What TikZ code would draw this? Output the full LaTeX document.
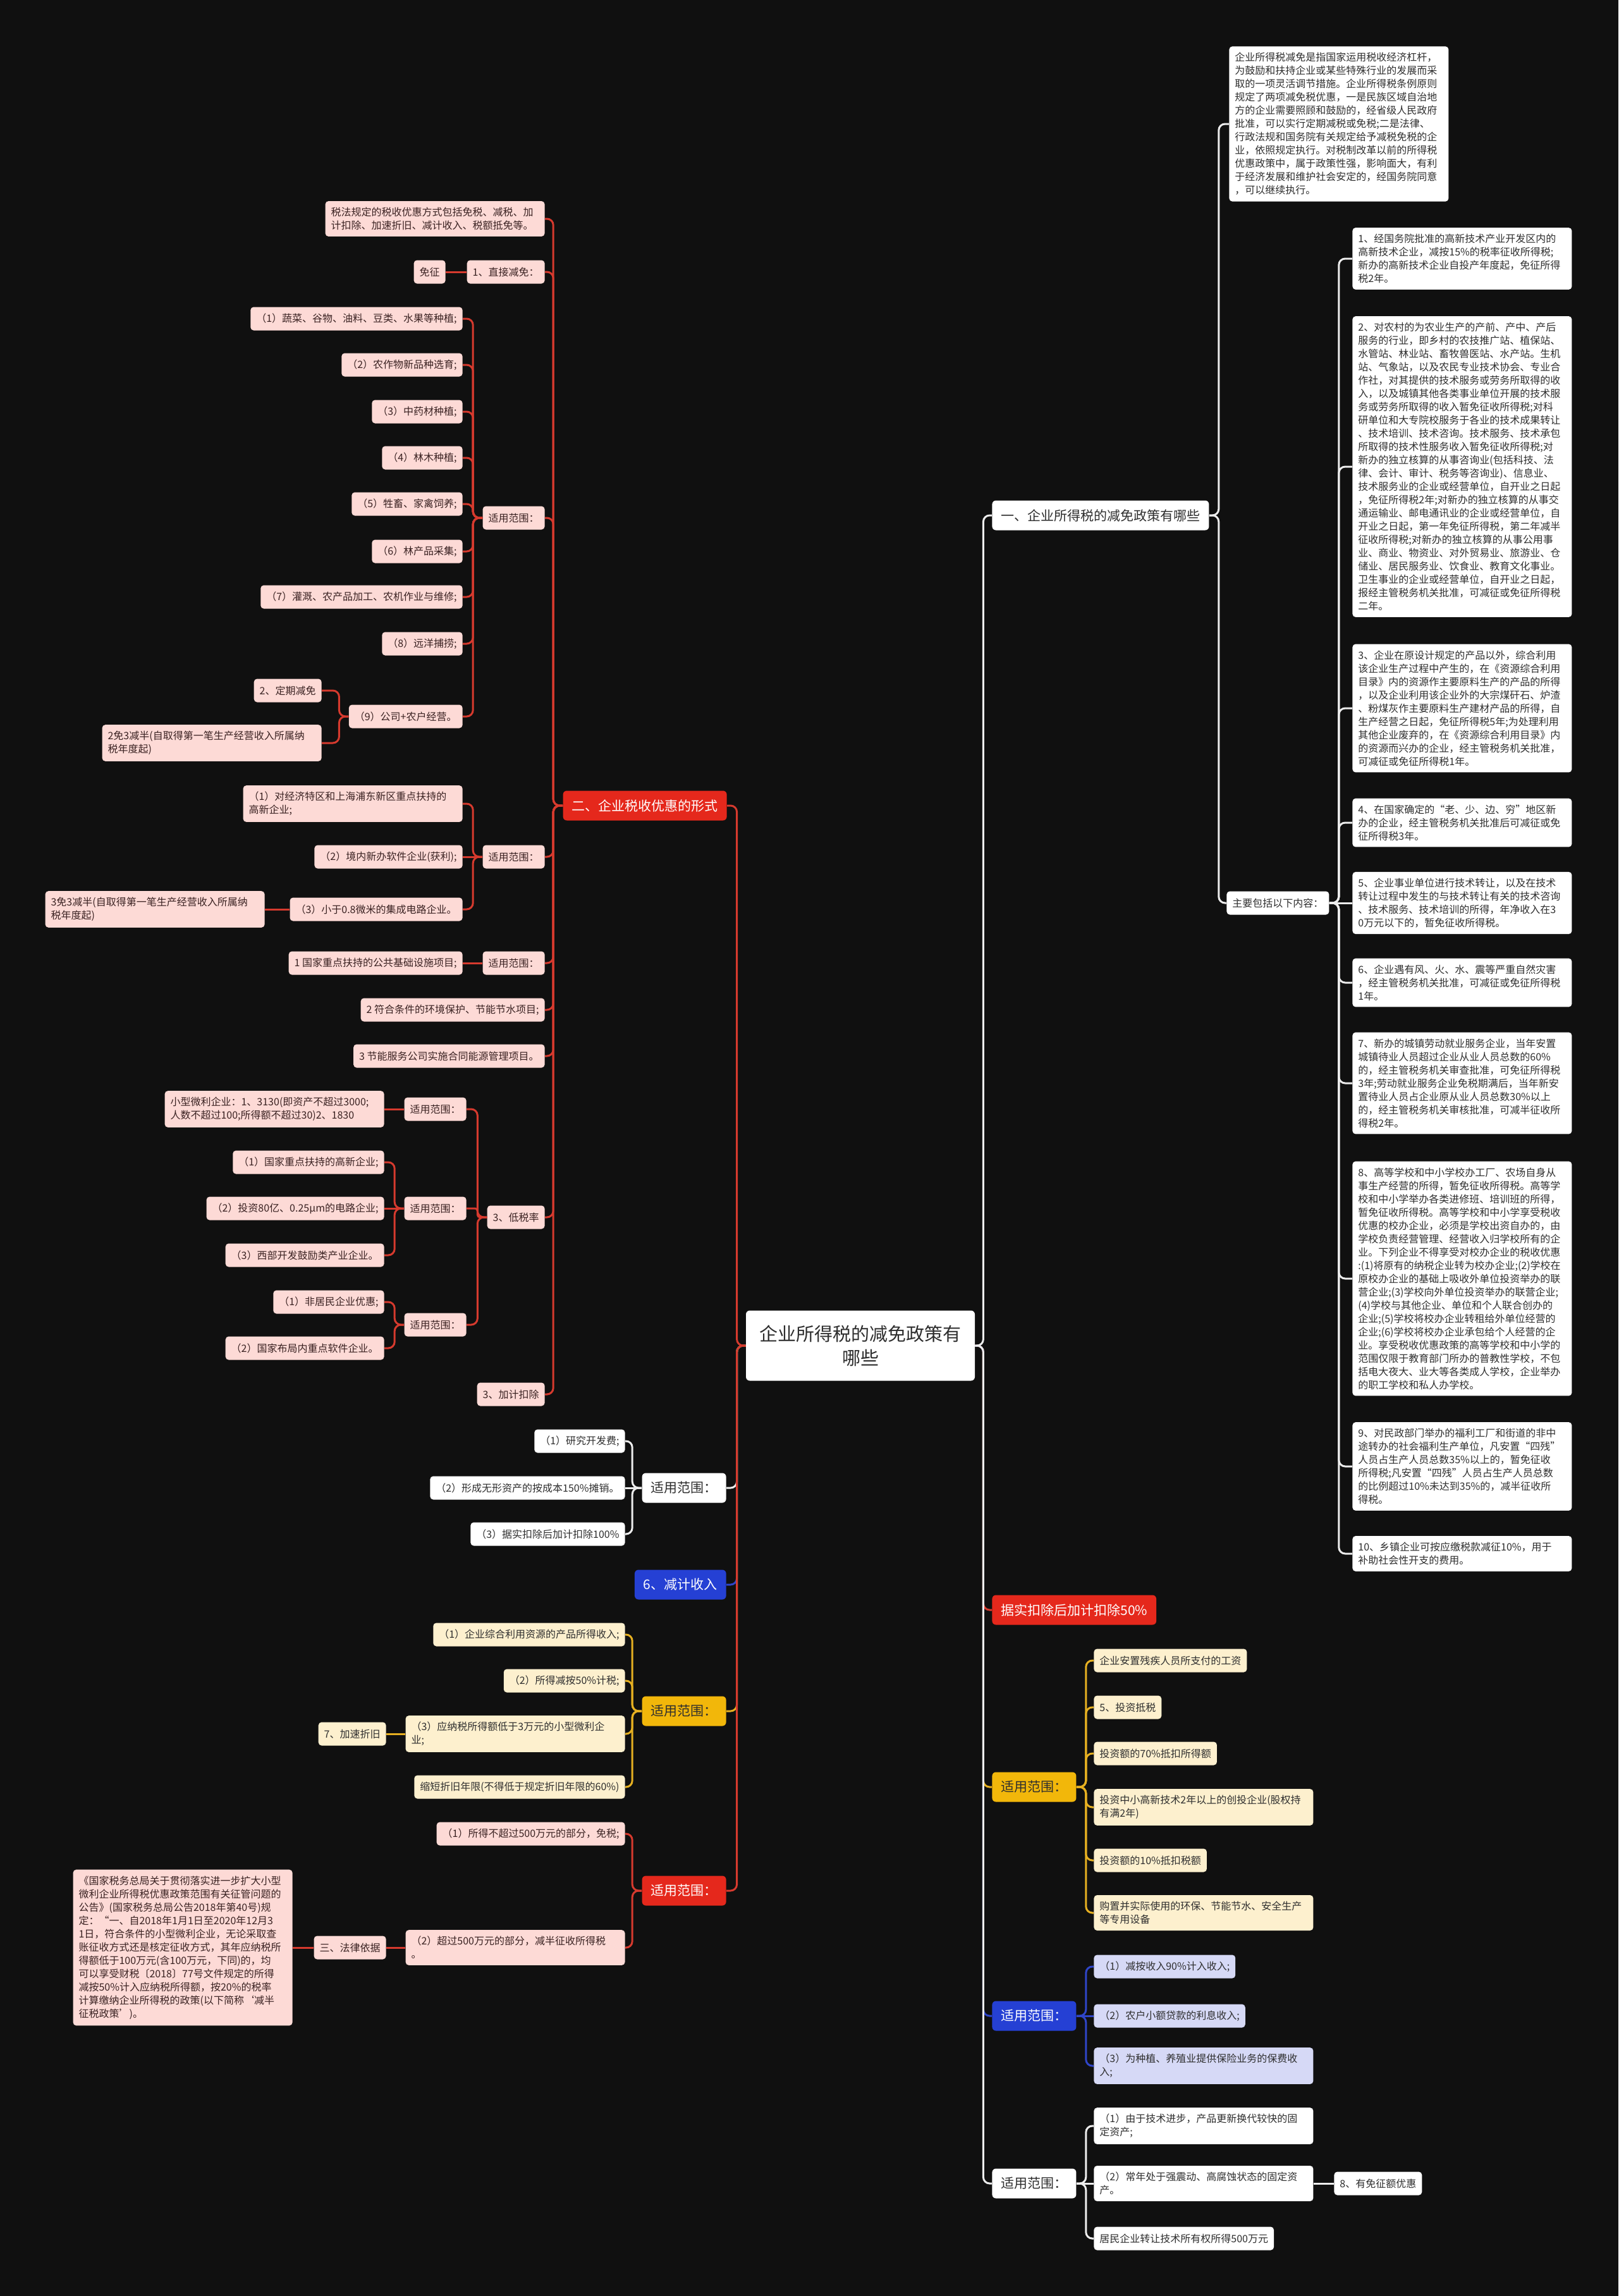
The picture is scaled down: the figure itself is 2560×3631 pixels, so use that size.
\documentclass[tikz,border=0pt]{standalone}
\usepackage{fontspec}
\setmainfont{Noto Sans CJK SC}
\definecolor{bg}{HTML}{101010}
\definecolor{txt}{HTML}{2E2E2E}
\definecolor{pinkF}{HTML}{FDDAD6}
\definecolor{pinkT}{HTML}{3A2222}
\definecolor{redF}{HTML}{E5281C}
\definecolor{redL}{HTML}{D63A2E}
\definecolor{ylF}{HTML}{F2B70A}
\definecolor{ylL}{HTML}{E6B021}
\definecolor{ylLight}{HTML}{FDF0CE}
\definecolor{blF}{HTML}{2540D4}
\definecolor{blL}{HTML}{2F45C8}
\definecolor{blLight}{HTML}{D6D9F6}
\definecolor{whL}{HTML}{EDEDED}
\newcommand\fsS{\fontsize{8}{10.5}\selectfont}
\newcommand\fsB{\fontsize{10.5}{13}\selectfont}
\newcommand\fsC{\fontsize{14.5}{19}\selectfont}
\newcommand\conl[3]{\draw[#1] (#2.west) -- ++(-15,0) |- (#3.east);}
\newcommand\conr[3]{\draw[#1] (#2.east) -- ++(15,0) |- (#3.west);}
\newcommand\strl[3]{\draw[#1] (#2.west) -- (#3.east |- #2.west);}
\newcommand\strr[3]{\draw[#1] (#2.east) -- (#3.west |- #2.east);}
\tikzset{
  box/.style={rounded corners=2.5pt, inner xsep=4.5pt, inner ysep=3pt, font=\fsS, text=txt, minimum height=18.5pt},
  mbox/.style={rounded corners=2.5pt, inner xsep=4.5pt, inner ysep=5pt, font=\fsS, text=txt, text width=164.5pt, align=left},
  lvl/.style={rounded corners=3pt, inner xsep=7pt, inner ysep=3pt, font=\fsB, minimum height=23.5pt},
  pk/.style={box, fill=pinkF, text=pinkT},
  pkm/.style={mbox, fill=pinkF, text=pinkT},
  wt/.style={box, fill=white},
  wtm/.style={mbox, fill=white},
  yl/.style={box, fill=ylLight},
  ylm/.style={mbox, fill=ylLight},
  bl/.style={box, fill=blLight},
  blm/.style={mbox, fill=blLight},
  lvred/.style={lvl, fill=redF, text=white},
  lvwt/.style={lvl, fill=white, text=txt},
  lvyl/.style={lvl, fill=ylF, text=txt},
  lvbl/.style={lvl, fill=blF, text=white},
  ln/.style={line width=1.5pt, rounded corners=5pt},
  ln2/.style={line width=1.5pt, rounded corners=2pt},
  lr/.style={ln, draw=redL},
  lr2/.style={ln2, draw=redL},
  lw/.style={ln, draw=whL},
  ly/.style={ln, draw=ylL},
  lb/.style={ln, draw=blL},
}
\begin{document}
\begin{tikzpicture}[x=0.5pt,y=-0.5pt]
\fill[bg] (0,0) rectangle (2560,3631);
\useasboundingbox (0,0) rectangle (2560,3631);

% center
\node[fill=white, text=txt, rounded corners=3pt, font=\fsC, align=center, minimum width=181pt, minimum height=55.5pt, inner sep=3pt] (C) at (1361,2128) {企业所得税的减免政策有\\哪些};

% ---------------- right side ----------------
\node[lvwt, anchor=west] (R1) at (1569,815) {一、企业所得税的减免政策有哪些};
\node[wtm, anchor=west] (Rp) at (1944,196) {企业所得税减免是指国家运用税收经济杠杆，\\为鼓励和扶持企业或某些特殊行业的发展而采\\取的一项灵活调节措施。企业所得税条例原则\\规定了两项减免税优惠，一是民族区域自治地\\方的企业需要照顾和鼓励的，经省级人民政府\\批准，可以实行定期减税或免税;二是法律、\\行政法规和国务院有关规定给予减税免税的企\\业，依照规定执行。对税制改革以前的所得税\\优惠政策中，属于政策性强，影响面大，有利\\于经济发展和维护社会安定的，经国务院同意\\，可以继续执行。};
\node[wt, anchor=west] (Rm) at (1940,1428) {主要包括以下内容：};
\node[wtm, anchor=west] (Ri1) at (2139,409) {1、经国务院批准的高新技术产业开发区内的\\高新技术企业，减按15\%的税率征收所得税;\\新办的高新技术企业自投产年度起，免征所得\\税2年。};
\node[wtm, anchor=west] (Ri2) at (2139,738) {2、对农村的为农业生产的产前、产中、产后\\服务的行业，即乡村的农技推广站、植保站、\\水管站、林业站、畜牧兽医站、水产站。生机\\站、气象站，以及农民专业技术协会、专业合\\作社，对其提供的技术服务或劳务所取得的收\\入，以及城镇其他各类事业单位开展的技术服\\务或劳务所取得的收入暂免征收所得税;对科\\研单位和大专院校服务于各业的技术成果转让\\、技术培训、技术咨询。技术服务、技术承包\\所取得的技术性服务收入暂免征收所得税;对\\新办的独立核算的从事咨询业(包括科技、法\\律、会计、审计、税务等咨询业)、信息业、\\技术服务业的企业或经营单位，自开业之日起\\，免征所得税2年;对新办的独立核算的从事交\\通运输业、邮电通讯业的企业或经营单位，自\\开业之日起，第一年免征所得税，第二年减半\\征收所得税;对新办的独立核算的从事公用事\\业、商业、物资业、对外贸易业、旅游业、仓\\储业、居民服务业、饮食业、教育文化事业。\\卫生事业的企业或经营单位，自开业之日起，\\报经主管税务机关批准，可减征或免征所得税\\二年。};
\node[wtm, anchor=west] (Ri3) at (2139,1120) {3、企业在原设计规定的产品以外，综合利用\\该企业生产过程中产生的，在《资源综合利用\\目录》内的资源作主要原料生产的产品的所得\\，以及企业利用该企业外的大宗煤矸石、炉渣\\、粉煤灰作主要原料生产建材产品的所得，自\\生产经营之日起，免征所得税5年;为处理利用\\其他企业废弃的，在《资源综合利用目录》内\\的资源而兴办的企业，经主管税务机关批准，\\可减征或免征所得税1年。};
\node[wtm, anchor=west] (Ri4) at (2139,1301) {4、在国家确定的“老、少、边、穷”地区新\\办的企业，经主管税务机关批准后可减征或免\\征所得税3年。};
\node[wtm, anchor=west] (Ri5) at (2139,1428) {5、企业事业单位进行技术转让，以及在技术\\转让过程中发生的与技术转让有关的技术咨询\\、技术服务、技术培训的所得，年净收入在3\\0万元以下的，暂免征收所得税。};
\node[wtm, anchor=west] (Ri6) at (2139,1554) {6、企业遇有风、火、水、震等严重自然灾害\\，经主管税务机关批准，可减征或免征所得税\\1年。};
\node[wtm, anchor=west] (Ri7) at (2139,1713) {7、新办的城镇劳动就业服务企业，当年安置\\城镇待业人员超过企业从业人员总数的60\%\\的，经主管税务机关审查批准，可免征所得税\\3年;劳动就业服务企业免税期满后，当年新安\\置待业人员占企业原从业人员总数30\%以上\\的，经主管税务机关审核批准，可减半征收所\\得税2年。};
\node[wtm, anchor=west] (Ri8) at (2139,2022) {8、高等学校和中小学校办工厂、农场自身从\\事生产经营的所得，暂免征收所得税。高等学\\校和中小学举办各类进修班、培训班的所得，\\暂免征收所得税。高等学校和中小学享受税收\\优惠的校办企业，必须是学校出资自办的，由\\学校负责经营管理、经营收入归学校所有的企\\业。下列企业不得享受对校办企业的税收优惠\\:(1)将原有的纳税企业转为校办企业;(2)学校在\\原校办企业的基础上吸收外单位投资举办的联\\营企业;(3)学校向外单位投资举办的联营企业;\\(4)学校与其他企业、单位和个人联合创办的\\企业;(5)学校将校办企业转租给外单位经营的\\企业;(6)学校将校办企业承包给个人经营的企\\业。享受税收优惠政策的高等学校和中小学的\\范围仅限于教育部门所办的普教性学校，不包\\括电大夜大、业大等各类成人学校，企业举办\\的职工学校和私人办学校。};
\node[wtm, anchor=west] (Ri9) at (2139,2319) {9、对民政部门举办的福利工厂和街道的非中\\途转办的社会福利生产单位，凡安置“四残”\\人员占生产人员总数35\%以上的，暂免征收\\所得税;凡安置“四残”人员占生产人员总数\\的比例超过10\%未达到35\%的，减半征收所\\得税。};
\node[wtm, anchor=west] (Ri10) at (2139,2457) {10、乡镇企业可按应缴税款减征10\%，用于\\补助社会性开支的费用。};

\node[lvred, anchor=west] (R2) at (1569,2546) {据实扣除后加计扣除50\%};
\node[lvyl, anchor=west] (R3) at (1569,2826) {适用范围：};
\node[yl, anchor=west] (R3a) at (1730,2626) {企业安置残疾人员所支付的工资};
\node[yl, anchor=west] (R3b) at (1730,2700) {5、投资抵税};
\node[yl, anchor=west] (R3c) at (1730,2773) {投资额的70\%抵扣所得额};
\node[ylm, anchor=west] (R3d) at (1730,2858) {投资中小高新技术2年以上的创投企业(股权持\\有满2年)};
\node[yl, anchor=west] (R3e) at (1730,2942) {投资额的10\%抵扣税额};
\node[ylm, anchor=west] (R3f) at (1730,3025) {购置并实际使用的环保、节能节水、安全生产\\等专用设备};
\node[lvbl, anchor=west] (R4) at (1569,3188) {适用范围：};
\node[bl, anchor=west] (R4a) at (1730,3110) {（1）减按收入90\%计入收入;};
\node[bl, anchor=west] (R4b) at (1730,3188) {（2）农户小额贷款的利息收入;};
\node[blm, anchor=west] (R4c) at (1730,3267) {（3）为种植、养殖业提供保险业务的保费收\\入;};
\node[lvwt, anchor=west] (R5) at (1569,3453) {适用范围：};
\node[wtm, anchor=west] (R5a) at (1730,3362) {（1）由于技术进步，产品更新换代较快的固\\定资产;};
\node[wtm, anchor=west] (R5b) at (1730,3453) {（2）常年处于强震动、高腐蚀状态的固定资\\产。};
\node[wt, anchor=west] (R5x) at (2110,3453) {8、有免征额优惠};
\node[wt, anchor=west] (R5c) at (1730,3540) {居民企业转让技术所有权所得500万元};

% ---------------- left side ----------------
\node[lvred, anchor=east] (L1) at (1150,1274) {二、企业税收优惠的形式};
\node[pkm, anchor=east] (L1a) at (862,346) {税法规定的税收优惠方式包括免税、减税、加\\计扣除、加速折旧、减计收入、税额抵免等。};
\node[pk, anchor=east] (L1b) at (862,430) {1、直接减免：};
\node[pk, anchor=east] (L1b1) at (705,430) {免征};
\node[pk, anchor=east] (L1c) at (862,819) {适用范围：};
\node[pk, anchor=east] (L1c1) at (732,504) {（1）蔬菜、谷物、油料、豆类、水果等种植;};
\node[pk, anchor=east] (L1c2) at (732,577) {（2）农作物新品种选育;};
\node[pk, anchor=east] (L1c3) at (732,651) {（3）中药材种植;};
\node[pk, anchor=east] (L1c4) at (732,724) {（4）林木种植;};
\node[pk, anchor=east] (L1c5) at (732,797) {（5）牲畜、家禽饲养;};
\node[pk, anchor=east] (L1c6) at (732,872) {（6）林产品采集;};
\node[pk, anchor=east] (L1c7) at (732,944) {（7）灌溉、农产品加工、农机作业与维修;};
\node[pk, anchor=east] (L1c8) at (732,1018) {（8）远洋捕捞;};
\node[pk, anchor=east] (L1c9) at (732,1133) {（9）公司+农户经营。};
\node[pk, anchor=east] (L1c9a) at (509,1092) {2、定期减免};
\node[pkm, anchor=east] (L1c9b) at (509,1175) {2免3减半(自取得第一笔生产经营收入所属纳\\税年度起)};
\node[pk, anchor=east] (L1d) at (862,1355) {适用范围：};
\node[pkm, anchor=east] (L1d1) at (732,1271) {（1）对经济特区和上海浦东新区重点扶持的\\高新企业;};
\node[pk, anchor=east] (L1d2) at (732,1355) {（2）境内新办软件企业(获利);};
\node[pk, anchor=east] (L1d3) at (732,1438) {（3）小于0.8微米的集成电路企业。};
\node[pkm, anchor=east] (L1d3a) at (419,1438) {3免3减半(自取得第一笔生产经营收入所属纳\\税年度起)};
\node[pk, anchor=east] (L1e) at (862,1523) {适用范围：};
\node[pk, anchor=east] (L1e1) at (732,1523) {1 国家重点扶持的公共基础设施项目;};
\node[pk, anchor=east] (L1f) at (862,1597) {2 符合条件的环境保护、节能节水项目;};
\node[pk, anchor=east] (L1g) at (862,1670) {3 节能服务公司实施合同能源管理项目。};
\node[pk, anchor=east] (L1h) at (862,1925) {3、低税率};
\node[pk, anchor=east] (L1ha) at (738,1754) {适用范围：};
\node[pkm, anchor=east] (L1ha1) at (608,1754) {小型微利企业：1、3130(即资产不超过3000;\\人数不超过100;所得额不超过30)2、1830};
\node[pk, anchor=east] (L1hb) at (738,1911) {适用范围：};
\node[pk, anchor=east] (L1hb1) at (608,1838) {（1）国家重点扶持的高新企业;};
\node[pk, anchor=east] (L1hb2) at (608,1911) {（2）投资80亿、0.25μm的电路企业;};
\node[pk, anchor=east] (L1hb3) at (608,1985) {（3）西部开发鼓励类产业企业。};
\node[pk, anchor=east] (L1hc) at (738,2095) {适用范围：};
\node[pk, anchor=east] (L1hc1) at (608,2059) {（1）非居民企业优惠;};
\node[pk, anchor=east] (L1hc2) at (608,2132) {（2）国家布局内重点软件企业。};
\node[pk, anchor=east] (L1i) at (862,2205) {3、加计扣除};

\node[lvwt, anchor=east] (L2) at (1149,2353) {适用范围：};
\node[wt, anchor=east] (L2a) at (989,2279) {（1）研究开发费;};
\node[wt, anchor=east] (L2b) at (989,2353) {（2）形成无形资产的按成本150\%摊销。};
\node[wt, anchor=east] (L2c) at (989,2426) {（3）据实扣除后加计扣除100\%};
\node[lvbl, anchor=east] (L3) at (1149,2506) {6、减计收入};
\node[lvyl, anchor=east] (L4) at (1149,2706) {适用范围：};
\node[yl, anchor=east] (L4a) at (989,2585) {（1）企业综合利用资源的产品所得收入;};
\node[yl, anchor=east] (L4b) at (989,2658) {（2）所得减按50\%计税;};
\node[ylm, anchor=east] (L4c) at (989,2742) {（3）应纳税所得额低于3万元的小型微利企\\业;};
\node[yl, anchor=east] (L4d) at (989,2826) {缩短折旧年限(不得低于规定折旧年限的60\%)};
\node[yl, anchor=east] (L4x) at (611,2742) {7、加速折旧};
\node[lvred, anchor=east] (L5) at (1149,2990) {适用范围：};
\node[pk, anchor=east] (L5a) at (989,2900) {（1）所得不超过500万元的部分，免税;};
\node[pkm, anchor=east] (L5b) at (989,3080) {（2）超过500万元的部分，减半征收所得税\\。};
\node[pk, anchor=east] (L5x) at (611,3080) {三、法律依据};
\node[pkm, anchor=east] (L5y) at (463,3080) {《国家税务总局关于贯彻落实进一步扩大小型\\微利企业所得税优惠政策范围有关征管问题的\\公告》(国家税务总局公告2018年第40号)规\\定：“一、自2018年1月1日至2020年12月3\\1日，符合条件的小型微利企业，无论采取查\\账征收方式还是核定征收方式，其年应纳税所\\得额低于100万元(含100万元，下同)的，均\\可以享受财税〔2018〕77号文件规定的所得\\减按50\%计入应纳税所得额，按20\%的税率\\计算缴纳企业所得税的政策(以下简称‘减半\\征税政策’)。};

% ---------------- connectors ----------------
% center, right
\draw[lr] (C.east) -- ++(13,0) |- (R2.west);
\draw[ly] (C.east) -- ++(13,0) |- (R3.west);
\draw[lb] (C.east) -- ++(13,0) |- (R4.west);
\draw[lw] (C.east) -- ++(13,0) |- (R1.west);
\draw[lw] (C.east) -- ++(13,0) |- (R5.west);
% center, left
\draw[lw] (C.west) -- ++(-14,0) |- (L2.east);
\draw[lb] (C.west) -- ++(-14,0) |- (L3.east);
\draw[ly] (C.west) -- ++(-14,0) |- (L4.east);
\draw[lr] (C.west) -- ++(-14,0) |- (L1.east);
\draw[lr] (C.west) -- ++(-14,0) |- (L5.east);

% right subtrees
\conr{lw}{R1}{Rp}
\conr{lw}{R1}{Rm}
\foreach \n in {Ri1,Ri2,Ri3,Ri4,Ri6,Ri7,Ri8,Ri9,Ri10} {\conr{lw}{Rm}{\n}}
\strr{lw}{Rm}{Ri5}
\foreach \n in {R3a,R3b,R3c,R3d,R3e,R3f} {\conr{ly}{R3}{\n}}
\conr{lb}{R4}{R4a}
\strr{lb}{R4}{R4b}
\conr{lb}{R4}{R4c}
\conr{lw}{R5}{R5a}
\strr{lw}{R5}{R5b}
\conr{lw}{R5}{R5c}
\strr{lw}{R5b}{R5x}

% left subtrees
\foreach \n in {L1a,L1b,L1c,L1d,L1e,L1f,L1g,L1h,L1i} {\conl{lr}{L1}{\n}}
\strl{lr}{L1b}{L1b1}
\foreach \n in {L1c1,L1c2,L1c3,L1c4,L1c5,L1c6,L1c7,L1c8,L1c9} {\conl{lr}{L1c}{\n}}
\conl{lr}{L1c9}{L1c9a}
\conl{lr}{L1c9}{L1c9b}
\conl{lr}{L1d}{L1d1}
\strl{lr}{L1d}{L1d2}
\conl{lr}{L1d}{L1d3}
\strl{lr}{L1d3}{L1d3a}
\strl{lr}{L1e}{L1e1}
\conl{lr}{L1h}{L1ha}
\conl{lr2}{L1h}{L1hb}
\conl{lr}{L1h}{L1hc}
\strl{lr}{L1ha}{L1ha1}
\conl{lr}{L1hb}{L1hb1}
\strl{lr}{L1hb}{L1hb2}
\conl{lr}{L1hb}{L1hb3}
\conl{lr}{L1hc}{L1hc1}
\conl{lr}{L1hc}{L1hc2}

\conl{lw}{L2}{L2a}
\strl{lw}{L2}{L2b}
\conl{lw}{L2}{L2c}
\foreach \n in {L4a,L4b,L4c,L4d} {\conl{ly}{L4}{\n}}
\strl{ly}{L4c}{L4x}
\conl{lr}{L5}{L5a}
\conl{lr}{L5}{L5b}
\strl{lr}{L5b}{L5x}
\strl{lr}{L5x}{L5y}
\end{tikzpicture}
\end{document}
